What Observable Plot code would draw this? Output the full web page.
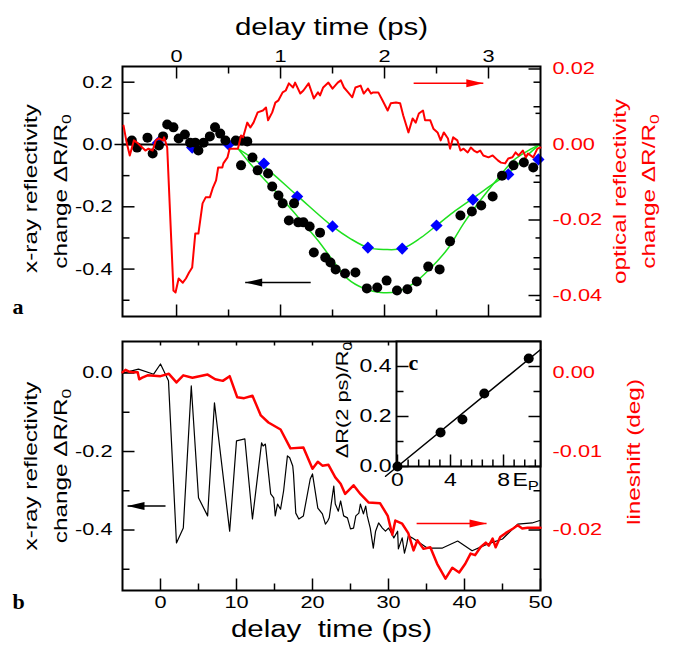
<!DOCTYPE html>
<html><head><meta charset="utf-8">
<script src="https://cdn.jsdelivr.net/npm/d3@7"></script>
<script src="https://cdn.jsdelivr.net/npm/@observablehq/plot@0.6"></script>
<style>
body{margin:0;background:#fff;}
#chart{position:relative;width:678px;height:653px;background:#fff;overflow:hidden;}
#chart svg{position:absolute;left:0;top:0;}
</style></head><body><div id="chart"></div>
<script>
// ---------- DATA ----------
// Panel a: optical reflectivity (right axis), [delay ps, dR/R0]
const opticalA = [[-0.51,0.0050],[-0.48,0.0005],[-0.45,-0.0029],[-0.41,0.0011],[-0.38,0.0005],[-0.33,-0.0008],[-0.30,-0.0016],[-0.27,-0.0011],[-0.23,-0.0016],[-0.20,0.0011],[-0.17,0.0016],[-0.13,0.0011],[-0.12,0.0019],[-0.09,-0.0008],[-0.03,-0.0387],[-0.01,-0.0392],[0.02,-0.0355],[0.06,-0.0366],[0.09,-0.0355],[0.12,-0.0339],[0.15,-0.0326],[0.18,-0.0236],[0.21,-0.0236],[0.25,-0.0156],[0.28,-0.0140],[0.32,-0.0140],[0.35,-0.0114],[0.38,-0.0095],[0.40,-0.0061],[0.44,-0.0061],[0.45,-0.0050],[0.49,-0.0034],[0.51,-0.0011],[0.54,-0.0011],[0.59,-0.0011],[0.62,0.0024],[0.64,0.0019],[0.68,0.0058],[0.71,0.0045],[0.74,0.0058],[0.78,0.0085],[0.83,0.0090],[0.86,0.0098],[0.88,0.0064],[0.92,0.0085],[0.95,0.0111],[0.98,0.0117],[1.02,0.0138],[1.05,0.0143],[1.08,0.0162],[1.12,0.0151],[1.14,0.0164],[1.19,0.0135],[1.22,0.0143],[1.27,0.0162],[1.32,0.0122],[1.36,0.0138],[1.38,0.0130],[1.41,0.0151],[1.46,0.0164],[1.50,0.0148],[1.55,0.0164],[1.58,0.0170],[1.61,0.0151],[1.65,0.0138],[1.69,0.0125],[1.72,0.0151],[1.77,0.0156],[1.80,0.0135],[1.84,0.0148],[1.87,0.0135],[1.89,0.0138],[1.94,0.0138],[1.98,0.0117],[2.03,0.0090],[2.06,0.0109],[2.11,0.0111],[2.15,0.0109],[2.18,0.0077],[2.23,0.0032],[2.27,0.0069],[2.30,0.0058],[2.33,0.0082],[2.37,0.0090],[2.39,0.0064],[2.44,0.0064],[2.47,0.0042],[2.51,0.0032],[2.54,0.0011],[2.57,0.0032],[2.61,0.0016],[2.63,-0.0011],[2.66,0.0019],[2.70,0.0011],[2.73,-0.0016],[2.76,-0.0011],[2.80,-0.0021],[2.83,-0.0008],[2.86,-0.0016],[2.89,-0.0021],[2.92,-0.0016],[2.95,-0.0029],[3.00,-0.0034],[3.04,-0.0029],[3.09,-0.0042],[3.12,-0.0048],[3.16,-0.0050],[3.19,-0.0037],[3.23,-0.0034],[3.26,-0.0021],[3.29,-0.0029],[3.33,-0.0016],[3.36,-0.0034],[3.38,-0.0024],[3.43,-0.0034],[3.47,-0.0011],[3.50,-0.0008]];
// Panel a: x-ray reflectivity, black dots
const xrayDotsA = [[-0.43,0.013],[-0.38,-0.010],[-0.28,0.022],[-0.23,-0.029],[-0.17,-0.003],[-0.13,0.026],[-0.09,0.064],[-0.03,0.055],[0.02,0.019],[0.08,0.032],[0.13,0.006],[0.18,0.006],[0.21,-0.019],[0.26,0.006],[0.32,0.026],[0.37,0.055],[0.42,0.035],[0.47,0.013],[0.57,0.013],[0.63,0.013],[0.68,0.010],[0.62,-0.067],[0.73,-0.042],[0.78,-0.083],[0.88,-0.093],[0.92,-0.135],[0.98,-0.164],[1.02,-0.189],[1.13,-0.189],[1.08,-0.244],[1.17,-0.250],[1.22,-0.250],[1.28,-0.263],[1.38,-0.283],[1.32,-0.347],[1.43,-0.363],[1.48,-0.379],[1.53,-0.401],[1.62,-0.414],[1.72,-0.411],[1.83,-0.462],[1.93,-0.459],[2.02,-0.437],[2.12,-0.469],[2.22,-0.465],[2.31,-0.440],[2.42,-0.392],[2.53,-0.401],[2.63,-0.311],[2.73,-0.228],[2.84,-0.215],[2.93,-0.196],[3.04,-0.167],[3.13,-0.100],[3.24,-0.067],[3.34,-0.058],[3.43,-0.074]];
// Panel a: x-ray reflectivity, blue diamonds
const xrayDiamondsA = [[-0.18,0.005],[0.15,-0.010],[0.50,0.000],[0.84,-0.061],[1.16,-0.167],[1.50,-0.263],[1.84,-0.331],[2.17,-0.334],[2.50,-0.260],[2.85,-0.177],[3.19,-0.096],[3.48,-0.048]];
// Panel a: green fit curves
const fitUpperA = [[0.59,-0.013],[0.84,-0.070],[1.16,-0.164],[1.50,-0.263],[1.67,-0.302],[1.84,-0.331],[2.00,-0.337],[2.17,-0.334],[2.35,-0.299],[2.50,-0.260],[2.66,-0.218],[2.85,-0.173],[3.02,-0.132],[3.19,-0.093],[3.34,-0.045],[3.48,-0.003]];
const fitLowerA = [[0.59,-0.013],[0.74,-0.074],[0.97,-0.157],[1.17,-0.234],[1.36,-0.308],[1.52,-0.380],[1.64,-0.430],[1.80,-0.462],[1.96,-0.475],[2.12,-0.472],[2.28,-0.446],[2.44,-0.398],[2.61,-0.334],[2.76,-0.254],[2.92,-0.180],[3.09,-0.109],[3.24,-0.051],[3.40,-0.016],[3.48,-0.003]];
// Panel b: x-ray reflectivity (left axis), [delay ps, dR/R0]
const xrayB = [[-5,0],[-4.3,0.003],[-2.9,0.010],[-0.9,-0.003],[0,0.023],[1.05,-0.020],[2.1,-0.433],[3.0,-0.395],[4.05,-0.033],[5.0,-0.318],[6.2,-0.364],[7.1,-0.076],[9.1,-0.403],[10.0,-0.173],[11.1,-0.168],[12.1,-0.372],[13.3,-0.178],[13.5,-0.186],[13.8,-0.181],[14.5,-0.308],[14.9,-0.318],[15.1,-0.364],[15.4,-0.334],[15.8,-0.347],[16.2,-0.300],[16.7,-0.211],[17.0,-0.216],[17.4,-0.237],[17.5,-0.257],[17.8,-0.357],[18.2,-0.372],[18.8,-0.364],[19.7,-0.270],[20.0,-0.257],[20.7,-0.344],[21.3,-0.359],[21.7,-0.385],[22.0,-0.377],[22.2,-0.369],[22.8,-0.288],[23.0,-0.334],[23.4,-0.352],[23.7,-0.326],[24.1,-0.364],[24.6,-0.369],[25.0,-0.397],[25.4,-0.395],[25.7,-0.364],[26.1,-0.357],[26.3,-0.334],[26.7,-0.359],[27.0,-0.339],[27.2,-0.364],[27.6,-0.395],[28.0,-0.446],[28.3,-0.403],[28.7,-0.382],[29.2,-0.395],[29.6,-0.403],[30.0,-0.395],[30.4,-0.408],[30.7,-0.420],[31.2,-0.403],[31.3,-0.448],[31.8,-0.420],[32.1,-0.459],[32.4,-0.436],[32.6,-0.415],[33.1,-0.420],[35.1,-0.446],[37.1,-0.446],[39.1,-0.428],[41.0,-0.453],[43.0,-0.436],[45.0,-0.423],[47.0,-0.385],[48.9,-0.382],[50,-0.375]];
// Panel b: lineshift (right axis), [delay ps, deg]
const lineshiftB = [[-5,0.0001],[-4.6,0.0004],[-4.2,0.0002],[-3.7,0.0001],[-3.0,0.0001],[-2.8,-0.0008],[-2.4,-0.0006],[-1.7,-0.0003],[0,-0.0004],[1.1,-0.0001],[2.1,-0.0012],[3.0,-0.0003],[4.2,-0.0006],[6.2,-0.0002],[7.2,-0.0008],[8.2,-0.0010],[9.1,-0.0004],[10.1,-0.0031],[11.0,-0.0032],[12.1,-0.0029],[13.2,-0.0054],[14.2,-0.0063],[15.8,-0.0072],[17.1,-0.0096],[18.8,-0.0095],[20.0,-0.0122],[20.7,-0.0113],[21.3,-0.0118],[22.1,-0.0117],[23.0,-0.0133],[23.7,-0.0141],[24.3,-0.0154],[25.4,-0.0143],[26.3,-0.0154],[27.4,-0.0165],[28.9,-0.0166],[29.9,-0.0182],[30.5,-0.0206],[30.9,-0.0188],[31.8,-0.0192],[32.6,-0.0204],[33.3,-0.0226],[33.8,-0.0213],[34.6,-0.0224],[35.5,-0.0222],[36.4,-0.0243],[37.5,-0.0262],[38.4,-0.0248],[39.3,-0.0254],[40.1,-0.0243],[40.8,-0.0230],[41.4,-0.0232],[42.1,-0.0222],[42.8,-0.0216],[43.2,-0.0220],[43.7,-0.0211],[44.1,-0.0222],[44.7,-0.0209],[45.4,-0.0204],[46.4,-0.0198],[47.0,-0.0194],[47.6,-0.0198],[48.3,-0.0197],[50,-0.0197]];
// Inset c: pump energy vs dR(2 ps)/R0
const insetEp = [0, 3.25, 4.9, 6.55, 9.9];
const insetDR = [0, 0.136, 0.188, 0.292, 0.432];
const insetFit = [[-0.9,-0.039],[10.8,0.468]];
// Arrows (data units of their panel / axis)
const arrowsAleft = [{x1:1.29, x2:0.66, y:-0.443}];
const arrowsAright = [{x1:2.28, x2:2.95, y:0.0162}];
const arrowsBleft = [{x1:0.66, x2:-4.34, y:-0.339}];
const arrowsBright = [{x1:33.7, x2:42.9, y:-0.01917}];
// Tick values
const aTopMajor = [0,1,2,3], aTopMinor = [0.5,1.5,2.5];
const aLeftMajor = [0.2,0,-0.2,-0.4], aLeftMinor = [0.1,-0.1,-0.3,-0.5];
const aRightMajor = [0.02,0,-0.02,-0.04], aRightMinor = [0.01,-0.01,-0.03];
const bBottomMajor = [0,10,20,30,40,50], bBottomMinor = [5,15,25,35,45];
const bTop = [0,5,10,15,20,25,30,35,40,45];
const bLeftMajor = [0,-0.2,-0.4], bLeftMinor = [-0.1,-0.3,-0.5];
const bRightMajor = [0,-0.01,-0.02], bRightMinor = [-0.005,-0.015,-0.025];
const cBottomMajor = [0,4,8], cBottomMinor = [0.8,1.6,2.4,3.2,4.8,5.6,6.4,7.2,8.8,9.6,10.4];
const cLeftMajor = [0,0.2,0.4], cLeftMinor = [0.1,0.3];

// ---------- HELPERS ----------
const W = 678, H = 653;
const FONT = "Liberation Sans, Arial, Helvetica, sans-serif";
const SERIF = "Liberation Serif, Times New Roman, serif";
const STRETCH = 1.28;
const RED = "#ff0000", GREEN = "#1ee01e", BLUE = "#0000ff";

function seg(dx, dy) { return {draw(ctx) { ctx.moveTo(0, 0); ctx.lineTo(dx, dy); }}; }
function head(dir) { const L = 17, w = 4; return {draw(ctx) { ctx.moveTo(0, 0); ctx.lineTo(-dir * L, -w); ctx.lineTo(-dir * L, w); ctx.closePath(); }}; }
function ticks(vals, anchor, len, extra = {}) {
  const s = anchor === "left" ? seg(len, 0) : anchor === "right" ? seg(-len, 0) : anchor === "top" ? seg(0, len) : seg(0, -len);
  const ch = (anchor === "left" || anchor === "right") ? {y: d => d} : {x: d => d};
  return Plot.dot(vals, {...ch, frameAnchor: anchor, symbol: s, fill: "none", stroke: "black", strokeWidth: 1.5, ...extra});
}
function labels(vals, anchor, fmt, extra = {}) {
  const ch = (anchor === "left" || anchor === "right") ? {y: d => d} : {x: d => d};
  const off = {left: {dx: -10, textAnchor: "end"}, right: {dx: 12, textAnchor: "start"}, top: {dy: -17, textAnchor: "middle"}, bottom: {dy: 17, textAnchor: "middle"}}[anchor];
  return Plot.text(vals, {...ch, frameAnchor: anchor, text: fmt, fontSize: 17, ...off, ...extra});
}
function label(str, opts) { return Plot.text([str], {text: d => d, fontSize: 19, textAnchor: "middle", ...opts}); }
function arrowMarks(arrs, color) {
  return [
    Plot.link(arrs, {x1: "x1", x2: "x2", y1: "y", y2: "y", stroke: color, strokeWidth: 1.5}),
    Plot.dot(arrs.filter(a => a.x2 > a.x1), {x: "x2", y: "y", symbol: head(1), fill: color, stroke: "none"}),
    Plot.dot(arrs.filter(a => a.x2 < a.x1), {x: "x2", y: "y", symbol: head(-1), fill: color, stroke: "none"})
  ];
}
function layer(margins, xdom, ydom, marks) {
  return Plot.plot({
    width: W, height: H, ...margins,
    x: {domain: xdom, axis: null}, y: {domain: ydom, axis: null},
    style: {background: "transparent", fontFamily: FONT, overflow: "visible"},
    marks
  });
}
const f1 = d => d.toFixed(1), f2 = d => d.toFixed(2), f0 = d => String(d);

const MA = {marginLeft: 122, marginRight: 138, marginTop: 66, marginBottom: 337};
const MB = {marginLeft: 122, marginRight: 138, marginTop: 341, marginBottom: 63};
const MC = {marginLeft: 396, marginRight: 138, marginTop: 341, marginBottom: 187};
const xA = [-0.52, 3.5], yAl = [-0.5522, 0.2504], yAr = [-0.04556, 0.02066];
const xB = [-5, 50], yBl = [-0.5541, 0.0803], yBr = [-0.027705, 0.004015];
const xC = [-0.075, 10.79], yC = [0, 0.5];

// ---------- PANEL a ----------
const aMain = layer(MA, xA, yAl, [
  Plot.ruleY([0], {stroke: "black", strokeWidth: 2}),
  ticks([0], "left", -8),
  Plot.line(fitUpperA, {x: d => d[0], y: d => d[1], stroke: GREEN, strokeWidth: 1.5, curve: "catmull-rom"}),
  Plot.line(fitLowerA, {x: d => d[0], y: d => d[1], stroke: GREEN, strokeWidth: 1.5, curve: "catmull-rom"}),
  Plot.dot(xrayDiamondsA, {x: d => d[0], y: d => d[1], symbol: "diamond2", r: 5.5, fill: BLUE, stroke: "none"}),
  Plot.dot(xrayDotsA, {x: d => d[0], y: d => d[1], r: 5, fill: "black", stroke: "none"}),
  ticks(aLeftMajor, "left", 12), ticks(aLeftMinor, "left", 7),
  ticks(aLeftMajor, "right", 7), ticks(aLeftMinor, "right", 5),
  ticks(aTopMajor, "top", 12), ticks(aTopMinor, "top", 7),
  ticks(aTopMajor, "bottom", 12), ticks(aTopMinor, "bottom", 7),
  labels(aLeftMajor, "left", f1),
  labels(aTopMajor, "top", f0),
  label("x-ray reflectivity", {frameAnchor: "left", dx: -92, dy: -3, rotate: -90}),
  label("change ΔR/R_0", {frameAnchor: "left", dx: -62, rotate: -90}),
  label("delay time (ps)", {frameAnchor: "top", dy: -48, fontSize: 23}),
  ...arrowMarks(arrowsAleft, "black"),
  label("a", {frameAnchor: "bottom-left", dx: -110, dy: -3, textAnchor: "start", fontSize: 22, fontFamily: SERIF, fontWeight: "bold"}),
  Plot.frame({stroke: "black", strokeWidth: 2})
]);
const aRed = layer(MA, xA, yAr, [
  Plot.line(opticalA, {x: d => d[0], y: d => d[1], stroke: RED, strokeWidth: 2}),
  ticks(aRightMajor, "right", 12), ticks(aRightMinor, "right", 7),
  labels(aRightMajor, "right", f2, {fill: RED}),
  label("optical reflectivity", {frameAnchor: "right", dx: 79, rotate: -90, fill: RED}),
  label("change ΔR/R_0", {frameAnchor: "right", dx: 108, rotate: -90, fill: RED}),
  ...arrowMarks(arrowsAright, RED)
]);

// ---------- PANEL b ----------
const bMain = layer(MB, xB, yBl, [
  Plot.line(xrayB, {x: d => d[0], y: d => d[1], stroke: "black", strokeWidth: 1.2}),
  ticks(bLeftMajor, "left", 12), ticks(bLeftMinor, "left", 7),
  ticks(bBottomMajor, "bottom", 12), ticks(bBottomMinor, "bottom", 7),
  ticks(bTop, "top", 4),
  labels(bLeftMajor, "left", f1),
  labels(bBottomMajor, "bottom", f0),
  label("x-ray reflectivity", {frameAnchor: "left", dx: -92, rotate: -90}),
  label("change ΔR/R_0", {frameAnchor: "left", dx: -62, rotate: -90}),
  label("delay  time (ps)", {frameAnchor: "bottom", dy: 46, fontSize: 23}),
  ...arrowMarks(arrowsBleft, "black"),
  label("b", {frameAnchor: "bottom-left", dx: -110, dy: 18, textAnchor: "start", fontSize: 22, fontFamily: SERIF, fontWeight: "bold"}),
  Plot.frame({stroke: "black", strokeWidth: 2})
]);
const bRed = layer(MB, xB, yBr, [
  Plot.line(lineshiftB, {x: d => d[0], y: d => d[1], stroke: RED, strokeWidth: 2.5}),
  ticks(bRightMajor, "right", 12), ticks(bRightMinor, "right", 7),
  labels(bRightMajor, "right", f2, {fill: RED}),
  label("lineshift (deg)", {frameAnchor: "right", dx: 93, dy: -14, rotate: -90, fill: RED}),
  ...arrowMarks(arrowsBright, RED)
]);

// ---------- INSET c ----------
const cInset = layer(MC, xC, yC, [
  Plot.frame({fill: "white", stroke: "none"}),
  Plot.line(insetFit, {x: d => d[0], y: d => d[1], stroke: "black", strokeWidth: 1.5}),
  Plot.dot(insetEp, {x: d => d, y: (d, i) => insetDR[i], r: 5, fill: "black", stroke: "none"}),
  ticks(cBottomMajor, "bottom", 12), ticks(cBottomMinor, "bottom", 7),
  ticks(cLeftMajor, "left", 12), ticks(cLeftMinor, "left", 7),
  ticks(cLeftMajor, "right", 12), ticks(cLeftMinor, "right", 7),
  labels(cLeftMajor, "left", f1, {dx: -5, fontSize: 18}),
  labels(cBottomMajor, "bottom", f0, {dy: 19, fontSize: 18}),
  Plot.text(["E_P"], {text: d => d, frameAnchor: "bottom-right", dx: -28, dy: 19, textAnchor: "start", fontSize: 18}),
  Plot.text(["ΔR(2 ps)/R_0"], {text: d => d, frameAnchor: "left", dx: -54, dy: -4, rotate: -90, textAnchor: "middle", fontSize: 17}),
  label("c", {frameAnchor: "top-left", dx: 12, dy: 13, textAnchor: "start", fontSize: 22, fontFamily: SERIF, fontWeight: "bold"}),
  Plot.frame({stroke: "black", strokeWidth: 2})
]);

const chart = document.getElementById("chart");
[aMain, aRed, bMain, bRed, cInset].forEach(s => chart.appendChild(s));

// subscripts and horizontal glyph stretch (the original uses wide glyphs)
chart.querySelectorAll("svg text").forEach(t => {
  const m = /^(.*)_(.)$/.exec(t.textContent);
  if (m) {
    t.textContent = m[1];
    const sub = document.createElementNS("http://www.w3.org/2000/svg", "tspan");
    sub.setAttribute("font-size", "72%");
    sub.setAttribute("dy", "0.35em");
    sub.textContent = m[2];
    t.appendChild(sub);
  }
});
chart.querySelectorAll("svg text").forEach(t => {
  if (t.closest('[font-family*="Serif"]')) return;
  const L = t.getComputedTextLength();
  if (L > 0) {
    t.setAttribute("textLength", (L * STRETCH).toFixed(1));
    t.setAttribute("lengthAdjust", "spacingAndGlyphs");
  }
});
</script></body></html>
